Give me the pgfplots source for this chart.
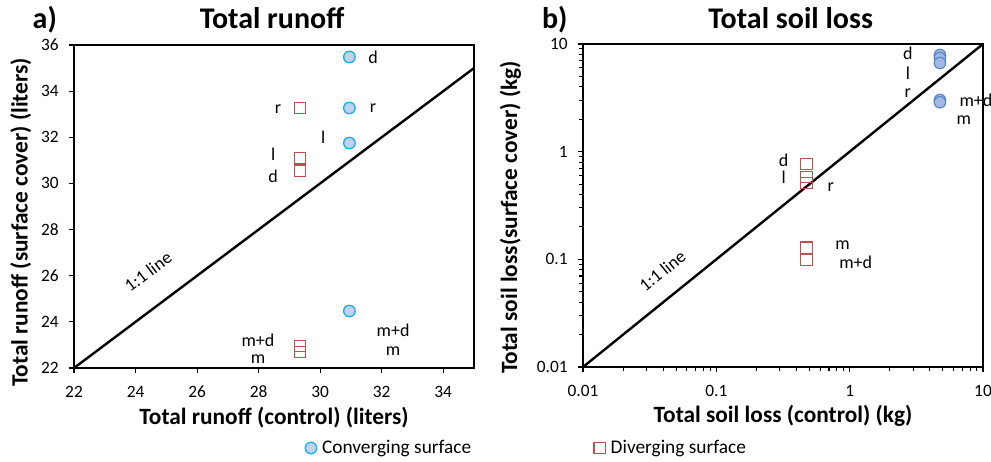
\documentclass[border=0pt]{standalone}
\usepackage{pgfplots}
\pgfplotsset{compat=1.18}
\usepackage{fontspec}
\setmainfont{Carlito}
\definecolor{cedge}{HTML}{1AAFE6}
\definecolor{cfill}{HTML}{C3D1F0}
\definecolor{bedge}{HTML}{5B87C8}
\definecolor{bfill}{HTML}{9FB9E3}
\definecolor{sred}{HTML}{C0504D}
\begin{document}
\begin{tikzpicture}
\useasboundingbox (0pt,0pt) rectangle (743.25pt,345.75pt);
\pgfplotsset{
  myax/.style={
    scale only axis, width=300pt, height=242.25pt,
    axis line style={line width=0.9pt},
    tick align=outside, xtick pos=bottom, ytick pos=left,
    major tick length=4pt,
    every tick/.style={black, line width=0.8pt},
    tick label style={font=\fontsize{13}{15}\selectfont},
    xticklabel style={yshift=-6pt},
    yticklabel style={xshift=-4pt},
    label style={font=\bfseries\fontsize{17.5}{20}\selectfont},
    /pgf/number format/assume math mode=true,
    clip=false,
  },
}
% ---------- a) ----------
\begin{axis}[myax,
  at={(55.5pt,69.75pt)}, anchor=south west,
  xmin=22, xmax=35, ymin=22, ymax=36,
  xtick={22,24,...,34}, ytick={22,24,...,36},
  xlabel={Total runoff (control) (liters)},
  ylabel={Total runoff (surface cover) (liters)},
  xlabel style={yshift=0pt},
  ylabel style={yshift=0.5pt, xshift=-12pt},
  legend style={at={(0.5775,-0.2477)}, anchor=west, draw=none, fill=none,
    font=\fontsize{14.5}{16}\selectfont, legend columns=2,
    /tikz/every even column/.append style={column sep=88pt},
    legend cell align=left, inner sep=0pt,
    nodes={inner xsep=4pt}},
]
\addplot[black, line width=1.8pt, forget plot] coordinates {(22,22) (35,35)};
\addplot[only marks, mark=*, mark size=4.3pt, mark options={draw=cedge, fill=cfill, line width=1pt}]
  coordinates {(30.95,35.48) (30.95,33.27) (30.95,31.75) (30.95,24.47)};
\addlegendentry{Converging surface}
\addplot[only marks, mark=square, mark size=4.3pt, mark options={draw=sred, line width=0.9pt}, forget plot]
  coordinates {(29.35,33.27) (29.35,31.1) (29.35,30.55) (29.35,22.95) (29.35,22.7)};
\addlegendimage{only marks, mark=square, mark size=4.3pt, mark options={draw=sred, line width=0.9pt}}
\addlegendentry{Diverging surface}
\begin{scope}[every node/.style={font=\fontsize{13.5}{15}\selectfont}]
\node at (axis cs:31.72,35.48) {d};
\node at (axis cs:31.72,33.27) {r};
\node at (axis cs:30.1,32.0) {l};
\node at (axis cs:28.63,33.2) {r};
\node at (axis cs:28.47,31.25) {l};
\node at (axis cs:28.47,30.3) {d};
\node at (axis cs:32.37,23.65) {m+d};
\node at (axis cs:32.37,22.75) {m};
\node at (axis cs:27.98,23.2) {m+d};
\node at (axis cs:27.98,22.4) {m};
\node[rotate=36.9, anchor=base west, inner sep=0pt] at (axis cs:23.82,25.25) {1:1 line};
\end{scope}
\end{axis}
\node[font=\bfseries\fontsize{22.5}{26}\selectfont, anchor=base west] at (21pt,324pt) {a)};
\node[font=\bfseries\fontsize{22.5}{26}\selectfont, anchor=base] at (204pt,324pt) {Total runoff};
% ---------- b) ----------
\begin{axis}[myax,
  at={(437.25pt,70.5pt)}, anchor=south west,
  xmode=log, ymode=log,
  xmin=0.01, xmax=10, ymin=0.01, ymax=10,
  xtick={0.01,0.1,1,10}, ytick={0.01,0.1,1,10},
  xticklabels={0.01,0.1,1,10}, yticklabels={0.01,0.1,1,10},
  xlabel={Total soil loss (control) (kg)},
  ylabel={Total soil loss(surface cover) (kg)},
  xlabel style={yshift=0pt},
  ylabel style={yshift=5pt, xshift=-9pt},
]
\addplot[black, line width=1.8pt] coordinates {(0.01,0.01) (10,10)};
\addplot[only marks, mark=*, mark size=4.3pt, mark options={draw=bedge, fill=bfill, line width=0.9pt}]
  coordinates {(4.75,7.9) (4.75,7.4) (4.75,6.66) (4.75,3.02) (4.75,2.88)};
\addplot[only marks, mark=square, mark size=4.3pt, mark options={draw=sred, line width=0.9pt}]
  coordinates {(0.475,0.77) (0.475,0.58) (0.475,0.51) (0.475,0.128) (0.475,0.099)};
\begin{scope}[every node/.style={font=\fontsize{13.5}{15}\selectfont}]
\node at (axis cs:2.73,8.25) {d};
\node at (axis cs:2.73,5.37) {l};
\node at (axis cs:2.73,3.51) {r};
\node at (axis cs:8.85,3.0) {m+d};
\node at (axis cs:7.19,1.97) {m};
\node at (axis cs:0.32,0.84) {d};
\node at (axis cs:0.32,0.58) {l};
\node at (axis cs:0.72,0.47) {r};
\node at (axis cs:0.886,0.136) {m};
\node at (axis cs:1.11,0.093) {m+d};
\node[rotate=39, anchor=base west, inner sep=0pt] at (axis cs:0.0292,0.0488) {1:1 line};
\end{scope}
\end{axis}
\node[font=\bfseries\fontsize{22.5}{26}\selectfont, anchor=base west] at (403pt,324pt) {b)};
\node[font=\bfseries\fontsize{22.5}{26}\selectfont, anchor=base] at (593pt,324pt) {Total soil loss};
\end{tikzpicture}
\end{document}
